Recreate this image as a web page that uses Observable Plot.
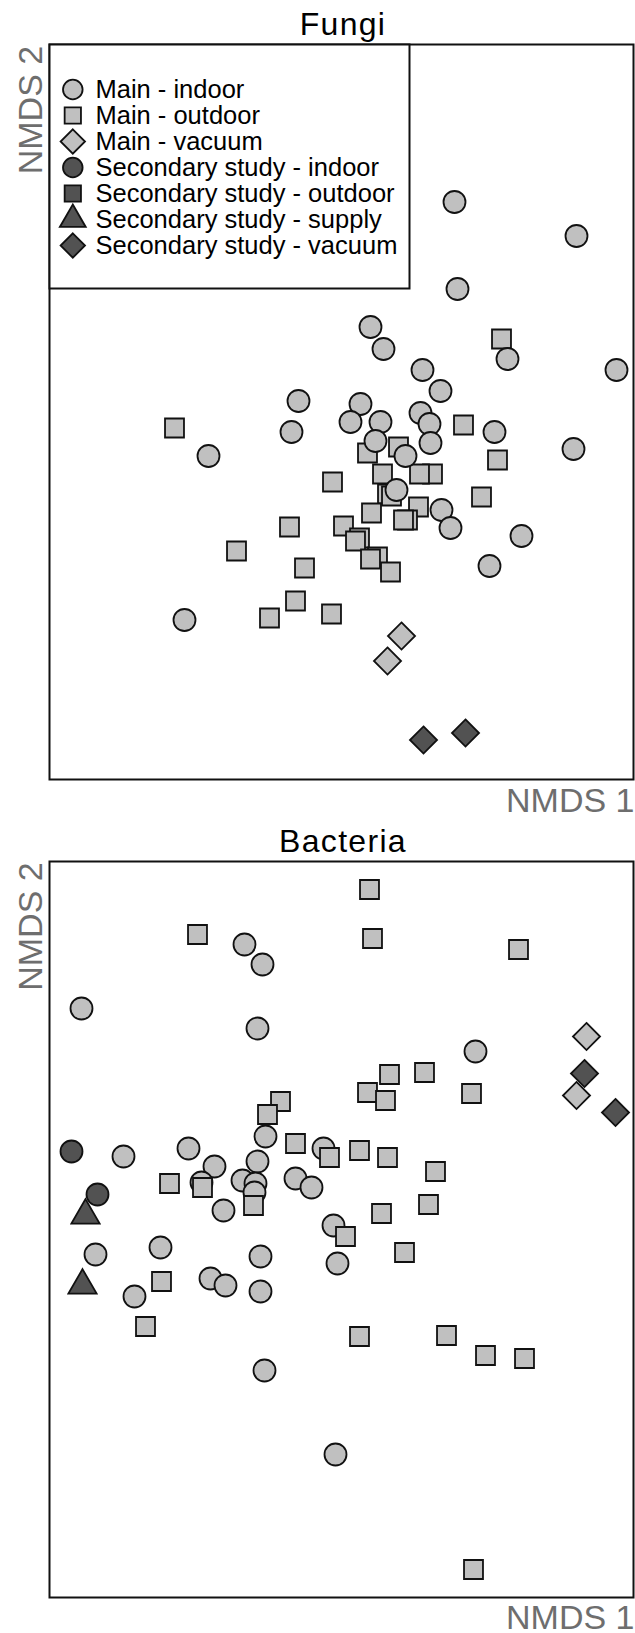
<!DOCTYPE html>
<html>
<head>
<meta charset="utf-8">
<script src="https://cdn.jsdelivr.net/npm/d3@7"></script>
<script src="https://cdn.jsdelivr.net/npm/@observablehq/plot@0.6"></script>
<style>
  body { margin: 0; background: #fff; }
  #wrap { position: relative; width: 635px; height: 1633px; }
  #wrap svg { display: block; overflow: visible; max-width: none; }
  #legend { position: absolute; left: 49px; top: 44px; }
</style>
</head>
<body>
<div id="wrap"><div id="panels"></div><div id="legend"></div></div>
<script>
// ---------- categories ----------
const groups = [
  "Main - indoor",
  "Main - outdoor",
  "Main - vacuum",
  "Secondary study - indoor",
  "Secondary study - outdoor",
  "Secondary study - supply",
  "Secondary study - vacuum"
];
const panelTitles = ["Fungi", "Bacteria"];
const xLabel = "NMDS 1";
const yLabel = "NMDS 2";

// ---------- Fungi NMDS scores [NMDS1, NMDS2] ----------
const fungiMainIndoor = [
  [1.13, 2.10], [2.35, 1.76], [1.16, 1.23], [0.29, 0.85], [0.42, 0.63], [1.66, 0.53],
  [2.75, 0.42], [0.81, 0.42], [0.99, 0.21], [-0.43, 0.11], [0.19, 0.08], [0.09, -0.10],
  [0.39, -0.10], [0.79, -0.01], [0.88, -0.12], [1.53, -0.20], [-0.50, -0.20], [-1.33, -0.44],
  [0.34, -0.29], [0.64, -0.44], [0.89, -0.31], [2.32, -0.37], [0.55, -0.78], [1.00, -0.98],
  [1.09, -1.16], [1.80, -1.24], [1.48, -1.54], [-1.57, -2.08]
];
const fungiMainOutdoor = [
  [1.60, 0.73], [1.22, -0.13], [-1.67, -0.16], [0.57, -0.35], [0.26, -0.41], [1.56, -0.48],
  [0.41, -0.62], [0.91, -0.62], [0.78, -0.62], [-0.09, -0.70], [0.46, -0.82], [0.50, -0.84],
  [1.40, -0.85], [0.77, -0.95], [0.30, -1.01], [0.66, -1.08], [0.62, -1.08], [0.02, -1.14],
  [-0.52, -1.15], [0.18, -1.26], [0.14, -1.29], [-1.05, -1.39], [0.36, -1.45], [0.29, -1.47],
  [0.49, -1.60], [-0.37, -1.56], [-0.46, -1.89], [-0.72, -2.06], [-0.10, -2.02]
];
const fungiMainVacuum = [[0.60, -2.24], [0.46, -2.49]];
const fungiSecondaryVacuum = [[0.82, -3.28], [1.24, -3.21]];

// ---------- Bacteria NMDS scores [NMDS1, NMDS2] ----------
const bacteriaMainIndoor = [
  [-0.97, 2.85], [-0.79, 2.65], [-2.60, 2.21], [-0.84, 2.01], [1.34, 1.78], [-0.76, 0.93],
  [-2.18, 0.73], [-1.53, 0.81], [-0.18, 0.81], [-0.84, 0.68], [-1.27, 0.63], [-1.40, 0.47],
  [-0.99, 0.49], [-0.86, 0.46], [-0.87, 0.37], [-0.46, 0.51], [-0.30, 0.42], [-1.18, 0.19],
  [-0.08, 0.04], [-2.46, -0.25], [-1.81, -0.18], [-0.81, -0.27], [-0.04, -0.34], [-1.31, -0.49],
  [-1.16, -0.56], [-0.81, -0.62], [-2.07, -0.67], [-0.77, -1.41], [-0.06, -2.25]
];
const bacteriaMainOutdoor = [
  [0.28, 3.40], [-1.44, 2.95], [0.31, 2.91], [1.77, 2.80], [0.48, 1.55], [0.83, 1.57],
  [0.26, 1.37], [0.44, 1.29], [1.30, 1.36], [-0.61, 1.28], [-0.74, 1.15], [-0.46, 0.86],
  [-0.12, 0.72], [0.18, 0.79], [0.46, 0.72], [0.94, 0.58], [-1.72, 0.46], [-1.39, 0.42],
  [-0.88, 0.24], [0.40, 0.16], [0.87, 0.25], [0.04, -0.07], [0.63, -0.23], [-1.80, -0.52],
  [-1.96, -0.97], [0.18, -1.07], [1.05, -1.06], [1.44, -1.26], [1.83, -1.29], [1.32, -3.40]
];
const bacteriaMainVacuum = [[2.45, 1.93], [2.35, 1.34]];
const bacteriaSecondaryIndoor = [[-2.70, 0.78], [-2.44, 0.35]];
const bacteriaSecondarySupply = [[-2.56, 0.14], [-2.59, -0.56]];
const bacteriaSecondaryVacuum = [[2.43, 1.56], [2.74, 1.17]];

// ---------- styles (kept apart from the data) ----------
const FONT = '"Liberation Sans", Arial, Helvetica, sans-serif';
const LIGHT = "#c0c0c0", DARK = "#525252", INK = "#111111", LABEL = "#6e6e6e";
const style = {
  "Main - indoor":             {symbol: "circle",          fill: LIGHT, r: 11},
  "Main - outdoor":            {symbol: "square",          fill: LIGHT, r: 10.7},
  "Main - vacuum":             {symbol: d3.symbolDiamond2, fill: LIGHT, r: 12.2},
  "Secondary study - indoor":  {symbol: "circle",          fill: DARK,  r: 11},
  "Secondary study - outdoor": {symbol: "square",          fill: DARK,  r: 10.7},
  "Secondary study - supply":  {symbol: "triangle",        fill: DARK,  r: 10.5},
  "Secondary study - vacuum":  {symbol: d3.symbolDiamond2, fill: DARK,  r: 12.2}
};

const panels = [
  {
    title: panelTitles[0],
    layers: [
      ["Main - outdoor", fungiMainOutdoor],
      ["Main - indoor", fungiMainIndoor],
      ["Main - vacuum", fungiMainVacuum],
      ["Secondary study - vacuum", fungiSecondaryVacuum]
    ],
    yDomain: [-3.675, 3.675], height: 820, mt: 44, mb: 41, labelDy: 32.7, yLabelDy: 1.3
  },
  {
    title: panelTitles[1],
    layers: [
      ["Main - indoor", bacteriaMainIndoor],
      ["Main - outdoor", bacteriaMainOutdoor],
      ["Main - vacuum", bacteriaMainVacuum],
      ["Secondary study - indoor", bacteriaSecondaryIndoor],
      ["Secondary study - supply", bacteriaSecondarySupply],
      ["Secondary study - vacuum", bacteriaSecondaryVacuum]
    ],
    yDomain: [-3.68, 3.68], height: 813, mt: 41, mb: 36, labelDy: 31.6, yLabelDy: 0.8
  }
];

const host = document.getElementById("panels");
for (const p of panels) {
  const svg = Plot.plot({
    width: 635,
    height: p.height,
    marginLeft: 49, marginRight: 2, marginTop: p.mt, marginBottom: p.mb,
    x: {domain: [-2.92, 2.92], axis: null},
    y: {domain: p.yDomain, axis: null},
    style: {fontFamily: FONT, background: "white", overflow: "visible"},
    marks: [
      Plot.frame({stroke: INK, strokeWidth: 2}),
      ...p.layers.map(([g, data]) => Plot.dot(data, {
        x: d => d[0], y: d => d[1],
        symbol: style[g].symbol, r: style[g].r,
        fill: style[g].fill, stroke: INK, strokeWidth: 1.8
      })),
      Plot.text([p.title], {text: d => d, frameAnchor: "top", lineAnchor: "bottom",
        dx: 1.5, dy: -10, fontSize: 32, fill: "#000"}),
      Plot.text([xLabel], {text: d => d, frameAnchor: "bottom-right", textAnchor: "end",
        lineAnchor: "bottom", dx: 1, dy: p.labelDy, fontSize: 34, fill: LABEL}),
      Plot.text([yLabel], {text: d => d, frameAnchor: "top-left", textAnchor: "end",
        lineAnchor: "bottom", rotate: -90, dx: -7.3, dy: p.yLabelDy, fontSize: 34, fill: LABEL})
    ]
  });
  d3.select(svg).selectAll("text").filter(function () { return this.textContent === p.title; })
    .attr("letter-spacing", 1.3);
  host.appendChild(svg);
}

// ---------- legend (its own small Plot, laid over the Fungi panel) ----------
const legendR = {
  "Main - indoor": 9.8, "Main - outdoor": 9.2, "Main - vacuum": 11,
  "Secondary study - indoor": 9.8, "Secondary study - outdoor": 9.2,
  "Secondary study - supply": 9.6, "Secondary study - vacuum": 11
};
const legend = Plot.plot({
  width: 360, height: 244, margin: 0,
  y: {type: "point", domain: groups, range: [32, 214], axis: null},
  style: {fontFamily: FONT, background: "white", overflow: "visible"},
  marks: [
    Plot.frame({stroke: INK, strokeWidth: 2}),
    ...groups.map(g => Plot.dot([g], {
      y: d => d, frameAnchor: "left", dx: 23.3,
      symbol: style[g].symbol, r: legendR[g], fill: style[g].fill,
      stroke: INK, strokeWidth: 1.8
    })),
    Plot.text(groups, {y: d => d, text: d => d, frameAnchor: "left", textAnchor: "start",
      dx: 46, fontSize: 25.5, fill: "#000"})
  ]
});
document.getElementById("legend").appendChild(legend);
</script>
</body>
</html>
